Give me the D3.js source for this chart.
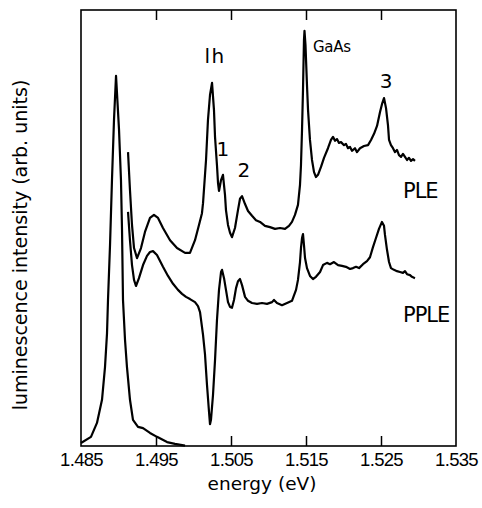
<!DOCTYPE html>
<html>
<head>
<meta charset="utf-8">
<script src="https://cdn.jsdelivr.net/npm/d3@7"></script>
<style>
  body { margin: 0; background: #fff; }
  svg { display: block; }
  .lbl { font-family: "DejaVu Sans", sans-serif; fill: #000; }
</style>
</head>
<body>
<div id="chart"></div>
<script>

// energy ticks (eV)
var energyTicks = [1.485, 1.495, 1.505, 1.515, 1.525, 1.535];

// luminescence (PL) line
var plEnergy = [1.4850, 1.48633, 1.48713, 1.4878, 1.4882, 1.48847, 1.4886, 1.48887, 1.48913, 1.4894, 1.48967,
  1.49007, 1.49033, 1.49047, 1.4906, 1.49087, 1.49113, 1.49153, 1.49193, 1.4926, 1.49327, 1.4942,
  1.49513, 1.49647, 1.49753, 1.49887];
var plIntensity = [0.7, 2.1, 5.3, 10.6, 18.1, 25.9, 33.5, 46.1, 61.0, 74.8, 84.9,
  72.5, 61.0, 49.5, 33.5, 24.3, 18.1, 10.6, 6.0, 4.4, 4.1, 3.0,
  2.1, 0.9, 0.5, 0.1];

// PLE spectrum
var pleEnergy = [1.49127, 1.49153, 1.4918, 1.49207, 1.49247, 1.493, 1.49353, 1.4942, 1.49473, 1.49527, 1.49593,
  1.49687, 1.4978, 1.49887, 1.49953, 1.5002, 1.50073, 1.50113, 1.50127, 1.50167, 1.50193, 1.5022,
  1.50247, 1.50273, 1.50287, 1.50313, 1.50327, 1.5034, 1.50367, 1.50393, 1.5042, 1.50433, 1.5046,
  1.50487, 1.50513, 1.50553, 1.50593, 1.5062, 1.50647, 1.50687, 1.50727, 1.5078, 1.50833, 1.50887,
  1.50953, 1.5102, 1.51087, 1.51153, 1.5122, 1.51273, 1.51313, 1.51353, 1.51393, 1.5142, 1.51433,
  1.51447, 1.5146, 1.51473, 1.5148, 1.51493, 1.51513, 1.51527, 1.51553, 1.5158, 1.51607, 1.51633,
  1.5166, 1.517, 1.5174, 1.51793, 1.51833, 1.5186, 1.51887, 1.51913, 1.5194, 1.51967, 1.52007,
  1.52033, 1.5206, 1.52087, 1.52113, 1.52153, 1.5218, 1.5222, 1.52273, 1.52327, 1.52367, 1.52407,
  1.52447, 1.52487, 1.52513, 1.5254, 1.52567, 1.52593, 1.52607, 1.52633, 1.5266, 1.52687, 1.52713,
  1.5274, 1.52767, 1.52793, 1.5282, 1.52847, 1.52873, 1.529, 1.52927, 1.52953];
var pleIntensity = [67.4, 58.7, 50.7, 45.4, 43.1, 45.4, 49.1, 52.3, 53.0, 52.3, 50.0,
  47.2, 45.4, 44.3, 44.3, 47.2, 50.7, 53.4, 55.7, 65.6, 74.8, 80.5,
  83.3, 77.1, 70.9, 64.4, 60.3, 58.5, 61.0, 62.2, 57.6, 54.1, 50.7,
  48.9, 47.9, 50.0, 54.1, 56.7, 57.3, 55.5, 53.9, 52.8, 51.8, 51.4,
  50.5, 50.2, 49.8, 50.0, 49.8, 50.5, 51.4, 53.0, 55.3, 59.9, 64.4,
  72.5, 81.7, 93.1, 95.2, 92.0, 82.8, 77.1, 70.2, 65.6, 62.8, 61.7,
  62.2, 64.0, 66.1, 68.3, 70.2, 70.9, 70.0, 70.4, 69.5, 69.7, 69.0,
  69.3, 68.3, 68.6, 67.7, 68.3, 67.4, 68.3, 68.8, 69.0, 70.2, 71.6,
  73.4, 76.6, 78.4, 79.8, 77.5, 73.6, 70.2, 69.0, 68.3, 67.4, 67.9,
  66.7, 66.3, 67.0, 66.3, 65.6, 66.1, 65.4, 65.8, 65.4];

// PPLE spectrum
var ppleEnergy = [1.49127, 1.49153, 1.4918, 1.49207, 1.49233, 1.49273, 1.49327, 1.4938, 1.4942, 1.4946, 1.49513,
  1.49593, 1.4966, 1.49727, 1.49793, 1.49847, 1.499, 1.49953, 1.5002, 1.5006, 1.50087, 1.50127,
  1.50153, 1.5018, 1.50207, 1.5022, 1.50233, 1.5026, 1.50287, 1.50313, 1.5034, 1.50367, 1.5038,
  1.50407, 1.50433, 1.5046, 1.50487, 1.50513, 1.5054, 1.50567, 1.50593, 1.5062, 1.50647, 1.50687,
  1.50727, 1.5078, 1.50847, 1.50913, 1.5098, 1.51047, 1.51073, 1.51113, 1.5118, 1.51247, 1.51313,
  1.51367, 1.51393, 1.5142, 1.51433, 1.51447, 1.5146, 1.51473, 1.51487, 1.51513, 1.51553, 1.51593,
  1.51633, 1.51687, 1.51727, 1.5178, 1.5182, 1.51873, 1.51927, 1.5198, 1.52033, 1.52087, 1.52127,
  1.52167, 1.52207, 1.5226, 1.52313, 1.52353, 1.52393, 1.52433, 1.52473, 1.52513, 1.5254, 1.52553,
  1.5258, 1.52607, 1.52633, 1.52673, 1.52713, 1.52753, 1.52793, 1.5282, 1.52847, 1.52887, 1.52913,
  1.52953];
var ppleIntensity = [53.7, 47.2, 41.5, 38.1, 36.7, 38.5, 41.5, 43.6, 44.5, 44.7, 43.8,
  41.1, 39.0, 37.2, 35.8, 34.9, 34.2, 33.7, 33.0, 32.1, 30.7, 25.5,
  21.1, 14.0, 7.8, 5.0, 6.0, 11.7, 19.7, 28.9, 35.8, 39.9, 40.4,
  38.5, 35.8, 33.0, 31.9, 31.7, 33.5, 36.2, 37.8, 38.3, 36.9, 34.2,
  33.3, 32.8, 32.6, 32.8, 32.6, 33.0, 33.5, 32.8, 32.3, 32.8, 33.3,
  35.8, 38.1, 42.2, 45.4, 47.7, 48.6, 46.1, 43.1, 40.8, 39.0, 38.3,
  38.8, 39.9, 41.5, 42.0, 41.7, 42.2, 41.5, 41.3, 41.1, 40.6, 40.8,
  41.1, 40.8, 41.7, 42.4, 43.3, 45.6, 47.7, 49.8, 51.4, 50.5, 48.4,
  45.0, 42.2, 40.8, 40.4, 40.1, 39.9, 39.7, 40.1, 39.4, 39.2, 38.8,
  38.5];

var width = 482, height = 508;
var margin = {top: 10, right: 26, bottom: 62, left: 81};

var svg = d3.select("#chart").append("svg")
  .attr("width", width)
  .attr("height", height);

var x = d3.scaleLinear()
  .domain([1.485, 1.535])
  .range([margin.left, width - margin.right]);

var y = d3.scaleLinear()
  .domain([0, 100])
  .range([height - margin.bottom, margin.top]);

function series(en, val) {
  return en.map(function(e, i) { return {e: e, v: val[i]}; });
}

var line = d3.line()
  .x(function(d) { return x(d.e); })
  .y(function(d) { return y(d.v); });

// axes (inward ticks, none at the ends)
var xb = svg.append("g")
  .attr("transform", "translate(0," + (height - margin.bottom) + ")")
  .call(d3.axisBottom(x).tickValues(energyTicks).tickSizeInner(-10).tickSizeOuter(0)
    .tickPadding(7).tickFormat(d3.format(".3f")));

var xt = svg.append("g")
  .attr("transform", "translate(0," + margin.top + ")")
  .call(d3.axisTop(x).tickValues(energyTicks).tickSizeInner(-10).tickSizeOuter(0).tickFormat(""));

[xb, xt].forEach(function(g) {
  g.select(".domain").remove();
  g.selectAll(".tick line")
    .attr("stroke", "#000")
    .attr("stroke-width", 1.5)
    .style("display", function(d) { return (d == 1.485 || d == 1.535) ? "none" : null; });
});

xb.selectAll(".tick text")
  .attr("font-family", "'Liberation Sans', Arial, sans-serif")
  .attr("font-size", 18.5)
  .attr("letter-spacing", -0.7)
  .attr("fill", "#000")
  .attr("dy", "0.71em");

// frame
svg.append("rect")
  .attr("x", margin.left)
  .attr("y", margin.top)
  .attr("width", width - margin.left - margin.right)
  .attr("height", height - margin.top - margin.bottom)
  .attr("fill", "none")
  .attr("stroke", "#000")
  .attr("stroke-width", 1.6);

// curves
[[plEnergy, plIntensity], [pleEnergy, pleIntensity], [ppleEnergy, ppleIntensity]].forEach(function(s) {
  svg.append("path")
    .datum(series(s[0], s[1]))
    .attr("d", line)
    .attr("fill", "none")
    .attr("stroke", "#000")
    .attr("stroke-width", 2.2)
    .attr("stroke-linejoin", "round");
});

// axis titles
svg.append("text")
  .attr("class", "lbl")
  .attr("x", 262)
  .attr("y", 490)
  .attr("text-anchor", "middle")
  .attr("font-size", 18.5)
  .text("energy (eV)");

svg.append("text")
  .attr("class", "lbl")
  .attr("transform", "translate(27,245) rotate(-90)")
  .attr("text-anchor", "middle")
  .attr("font-size", 19)
  .text("luminescence intensity (arb. units)");

// peak labels
var notes = [
  {t: "lh", e: 1.50287, v: 87.8, size: 20, ls: 1.5, anchor: "middle"},
  {t: "1", e: 1.50393, v: 66.5, size: 20, ls: 0, anchor: "middle"},
  {t: "2", e: 1.50673, v: 61.7, size: 20, ls: 0, anchor: "middle"},
  {t: "GaAs", e: 1.51593, v: 90.4, size: 15, ls: -0.3, anchor: "start"},
  {t: "3", e: 1.52567, v: 82.1, size: 20, ls: 0, anchor: "middle"},
  {t: "PLE", e: 1.52793, v: 56.9, size: 21, ls: -1, anchor: "start"},
  {t: "PPLE", e: 1.52793, v: 28.4, size: 21, ls: -1, anchor: "start"}
];

svg.selectAll(".note")
  .data(notes)
  .enter().append("text")
  .attr("class", "lbl note")
  .attr("x", function(d) { return x(d.e); })
  .attr("y", function(d) { return y(d.v); })
  .attr("text-anchor", function(d) { return d.anchor; })
  .attr("font-size", function(d) { return d.size; })
  .attr("letter-spacing", function(d) { return d.ls; })
  .text(function(d) { return d.t; });

</script>
</body>
</html>
